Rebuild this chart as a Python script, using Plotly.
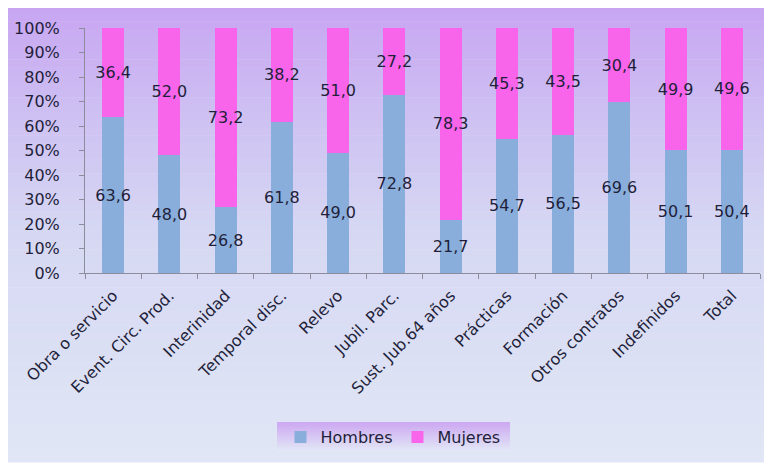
import plotly.graph_objects as go

categorias = ["Obra o servicio", "Event. Circ. Prod.", "Interinidad", "Temporal disc.",
              "Relevo", "Jubil. Parc.", "Sust. Jub.64 años", "Prácticas", "Formación",
              "Otros contratos", "Indefinidos", "Total"]
hombres = [63.6, 48.0, 26.8, 61.8, 49.0, 72.8, 21.7, 54.7, 56.5, 69.6, 50.1, 50.4]
mujeres = [36.4, 52.0, 73.2, 38.2, 51.0, 27.2, 78.3, 45.3, 43.5, 30.4, 49.9, 49.6]

OFF = 8  # page body margin
W, H = 772 - OFF, 467 - OFF
L, T = 85 - OFF, 28 - OFF
R = W - (760 - OFF)
B = H - (273 - OFF)
pw, ph = W - L - R, H - T - B

def px2x(px):
    return (px - OFF - L) / pw

def py2y(py):
    return (H - B - (py - OFF)) / ph

def lerp(c1, c2, t):
    return tuple(round(a + (b - a) * t) for a, b in zip(c1, c2))

shapes = []
stops = [(0.0, (200, 166, 242)), (0.25, (206, 194, 242)), (0.5, (214, 216, 243)), (1.0, (224, 230, 245))]
top, bot = 6, 462
n = 60
for i in range(n):
    t = i / (n - 1)
    for j in range(len(stops) - 1):
        if stops[j][0] <= t <= stops[j + 1][0]:
            tt = (t - stops[j][0]) / (stops[j + 1][0] - stops[j][0])
            c = lerp(stops[j][1], stops[j + 1][1], tt)
            break
    y0 = top + (bot - top) * i / n
    y1 = top + (bot - top) * (i + 1) / n + 0.5
    shapes.append(dict(type="rect", xref="paper", yref="paper", layer="below",
                       x0=px2x(OFF), x1=px2x(772), y0=py2y(y1), y1=py2y(max(y0, OFF)),
                       line=dict(width=0), fillcolor="rgb(%d,%d,%d)" % c))

lt, lb = 422, 452
m = 12
for i in range(m):
    t = i / (m - 1)
    c = lerp((205, 170, 242), (226, 230, 246), t)
    y0 = lt + (lb - lt) * i / m
    y1 = lt + (lb - lt) * (i + 1) / m + 0.5
    shapes.append(dict(type="rect", xref="paper", yref="paper", layer="below",
                       x0=px2x(277), x1=px2x(510), y0=py2y(y1), y1=py2y(y0),
                       line=dict(width=0), fillcolor="rgb(%d,%d,%d)" % c))

font_family = "DejaVu Sans"
txt_color = "#1f1f3a"

fig = go.Figure()
fig.add_trace(go.Bar(
    name="Hombres", x=categorias, y=hombres,
    marker=dict(color="#8aaedc", line=dict(width=0)),
    text=hombres, texttemplate="%{y:.1f}", textposition="inside",
    insidetextanchor="middle", textangle=0, constraintext="none",
    textfont=dict(size=16, color=txt_color, family=font_family),
))
fig.add_trace(go.Bar(
    name="Mujeres", x=categorias, y=mujeres,
    marker=dict(color="#f865ea", line=dict(width=0)),
    text=mujeres, texttemplate="%{y:.1f}", textposition="inside",
    insidetextanchor="middle", textangle=0, constraintext="none",
    textfont=dict(size=16, color=txt_color, family=font_family),
))

fig.update_layout(
    barmode="stack",
    bargap=0.61,
    width=W, height=H,
    margin=dict(l=L, r=R, t=T, b=B, pad=0, autoexpand=False),
    paper_bgcolor="white",
    plot_bgcolor="rgba(0,0,0,0)",
    separators=",.",
    font=dict(family=font_family, color=txt_color, size=16),
    shapes=shapes,
    showlegend=True,
    legend=dict(orientation="h", x=px2x(393), xanchor="center",
                y=py2y(437), yanchor="middle",
                bgcolor="rgba(0,0,0,0)", font=dict(size=16, family=font_family, color=txt_color),
                itemwidth=30, traceorder="normal"),
    xaxis=dict(
        tickangle=-45, tickfont=dict(size=16, family=font_family, color=txt_color),
        showline=True, linecolor="#8c8c9c", linewidth=1,
        ticks="outside", ticklen=5, tickcolor="#8c8c9c", tickson="boundaries",
        showgrid=False, zeroline=False, ticklabelstandoff=6, automargin=False,
    ),
    yaxis=dict(
        range=[0, 100], dtick=10, ticksuffix="%",
        tickfont=dict(size=16, family=font_family, color=txt_color),
        showline=True, linecolor="#8c8c9c", linewidth=1,
        ticks="outside", ticklen=5, tickcolor="#8c8c9c",
        showgrid=False, zeroline=False, ticklabelstandoff=16, automargin=False,
    ),
)

fig.write_html("out.html")
